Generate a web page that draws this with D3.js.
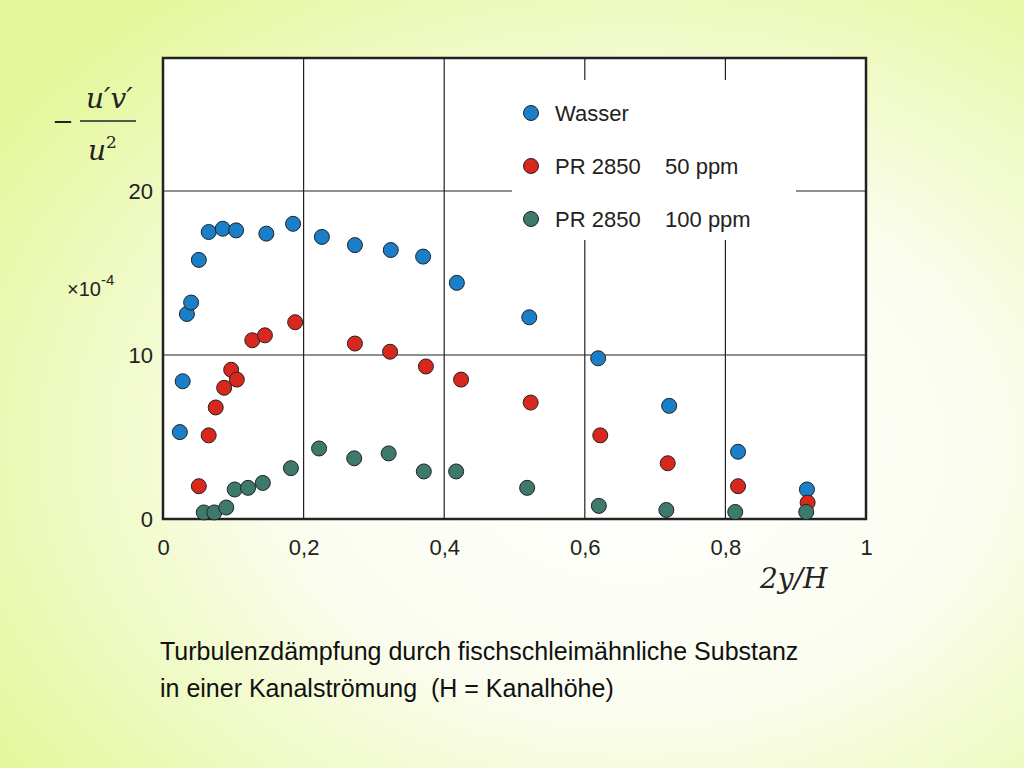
<!DOCTYPE html>
<html><head><meta charset="utf-8">
<script src="https://cdn.jsdelivr.net/npm/d3@7"></script>
<style>body{margin:0}svg{display:block}</style>
</head><body>
<svg id="chart" width="1024" height="768"></svg>
<script>
const wasserX = [0.024,0.028,0.034,0.040,0.051,0.065,0.085,0.104,0.147,0.185,0.226,0.273,0.324,0.370,0.418,0.521,0.619,0.720,0.818,0.916];
const wasserY = [5.3,8.4,12.5,13.2,15.8,17.5,17.7,17.6,17.4,18.0,17.2,16.7,16.4,16.0,14.4,12.3,9.8,6.9,4.1,1.8];
const pr50X = [0.051,0.065,0.075,0.087,0.097,0.105,0.127,0.145,0.188,0.273,0.323,0.374,0.424,0.523,0.622,0.718,0.818,0.917];
const pr50Y = [2.0,5.1,6.8,8.0,9.1,8.5,10.9,11.2,12.0,10.7,10.2,9.3,8.5,7.1,5.1,3.4,2.0,1.0];
const pr100X = [0.058,0.073,0.090,0.102,0.121,0.142,0.182,0.222,0.272,0.321,0.371,0.417,0.518,0.620,0.716,0.814,0.915];
const pr100Y = [0.4,0.4,0.7,1.8,1.9,2.2,3.1,4.3,3.7,4.0,2.9,2.9,1.9,0.8,0.55,0.43,0.43];
const xTicks = [0,0.2,0.4,0.6,0.8,1];
const xTickLabels = ["0","0,2","0,4","0,6","0,8","1"];
const yTicks = [0,10,20];
const legendNames = ["Wasser","PR 2850    50 ppm","PR 2850    100 ppm"];
const colors = ["#1a7fc8","#d8281e","#3e7a6c"];

const svg = d3.select("#chart");
const defs = svg.append("defs");
const g = defs.append("radialGradient").attr("id","bg").attr("cx","62%").attr("cy","58%").attr("r","75%");
g.append("stop").attr("offset","0%").attr("stop-color","#ffffff");
g.append("stop").attr("offset","45%").attr("stop-color","#fbfdf0");
g.append("stop").attr("offset","100%").attr("stop-color","#e4f79a");
svg.append("rect").attr("width",1024).attr("height",768).attr("fill","url(#bg)");

const pLeft = 163, pRight = 866, pTop = 58, pBottom = 519;
const x = d3.scaleLinear().domain([0,1]).range([pLeft,pRight]);
const y = d3.scaleLinear().domain([0,20]).range([pBottom,191]);

svg.append("rect").attr("x",pLeft).attr("y",pTop).attr("width",pRight-pLeft).attr("height",pBottom-pTop).attr("fill","#fff");

// grid
svg.selectAll(".vg").data([0.2,0.4,0.6,0.8]).enter().append("line")
  .attr("x1",d=>x(d)).attr("x2",d=>x(d)).attr("y1",pTop).attr("y2",pBottom)
  .attr("stroke","#222").attr("stroke-width",1.2);
svg.selectAll(".hg").data([10,20]).enter().append("line")
  .attr("x1",pLeft).attr("x2",pRight).attr("y1",d=>y(d)).attr("y2",d=>y(d))
  .attr("stroke","#222").attr("stroke-width",1.2);

// legend box hides grid
svg.append("rect").attr("x",512).attr("y",80).attr("width",284).attr("height",160).attr("fill","#fff");
legendNames.forEach((n,i)=>{
  const ly = 113 + i*53;
  svg.append("circle").attr("cx",531).attr("cy",ly).attr("r",7.5).attr("fill",colors[i]).attr("stroke","#222").attr("stroke-width",1);
  svg.append("text").attr("x",555).attr("y",ly+8).attr("font-family","Liberation Sans, Arial").attr("font-size",22)
    .attr("fill","#222").style("white-space","pre").text(n);
});

svg.append("rect").attr("x",pLeft).attr("y",pTop).attr("width",pRight-pLeft).attr("height",pBottom-pTop)
  .attr("fill","none").attr("stroke","#222").attr("stroke-width",2.5);

// ticks
const xAxis = svg.append("g").attr("transform",`translate(0,${pBottom})`)
  .call(d3.axisBottom(x).tickValues(xTicks).tickSize(0).tickPadding(16).tickFormat((d,i)=>xTickLabels[i]));
const yAxis = svg.append("g").attr("transform",`translate(${pLeft},0)`)
  .call(d3.axisLeft(y).tickValues(yTicks).tickSize(0).tickPadding(10));
[xAxis,yAxis].forEach(a=>{
  a.select(".domain").remove();
  a.selectAll("text").attr("font-family","Liberation Sans, Arial").attr("font-size",22).attr("fill","#222");
});
xAxis.selectAll("text").attr("dy","0.9em");

// points
const series = [[wasserX,wasserY],[pr50X,pr50Y],[pr100X,pr100Y]];
series.forEach(([xs,ys],i)=>{
  svg.selectAll(".s"+i).data(xs).enter().append("circle")
    .attr("cx",d=>x(d)).attr("cy",(d,j)=>y(ys[j])).attr("r",7.5)
    .attr("fill",colors[i]).attr("stroke","#222").attr("stroke-width",1);
});

// y label
const serif = "DejaVu Serif, Liberation Serif, serif";
svg.append("text").attr("x",52).attr("y",130).attr("font-family",serif).attr("font-size",26).attr("fill","#222").text("−");
svg.append("text").attr("x",86).attr("y",108).attr("font-family",serif).attr("font-style","italic").attr("font-size",28).attr("fill","#222").text("u′v′");
svg.append("line").attr("x1",80).attr("x2",136).attr("y1",121).attr("y2",121).attr("stroke","#222").attr("stroke-width",1.5);
const den = svg.append("text").attr("x",88).attr("y",160).attr("font-family",serif).attr("font-style","italic").attr("font-size",28).attr("fill","#222").text("u");
den.append("tspan").attr("font-style","normal").attr("font-size",17).attr("dy",-12).text("2");
const ex = svg.append("text").attr("x",67).attr("y",296).attr("font-family","Liberation Sans, Arial").attr("font-size",20).attr("fill","#222").text("×10");
ex.append("tspan").attr("font-size",15).attr("dy",-11).text("-4");

// x label
svg.append("text").attr("x",760).attr("y",588).attr("font-family",serif).attr("font-style","italic").attr("font-size",28).attr("fill","#222").text("2y/H");

// caption
const cap = ["Turbulenzdämpfung durch fischschleimähnliche Substanz","in einer Kanalströmung  (H = Kanalhöhe)"];
cap.forEach((t,i)=>svg.append("text").attr("x",160).attr("y",660+i*37).attr("font-family","Liberation Sans, Arial")
  .attr("font-size",25).attr("fill","#111").style("white-space","pre").text(t));
</script>
</body></html>
